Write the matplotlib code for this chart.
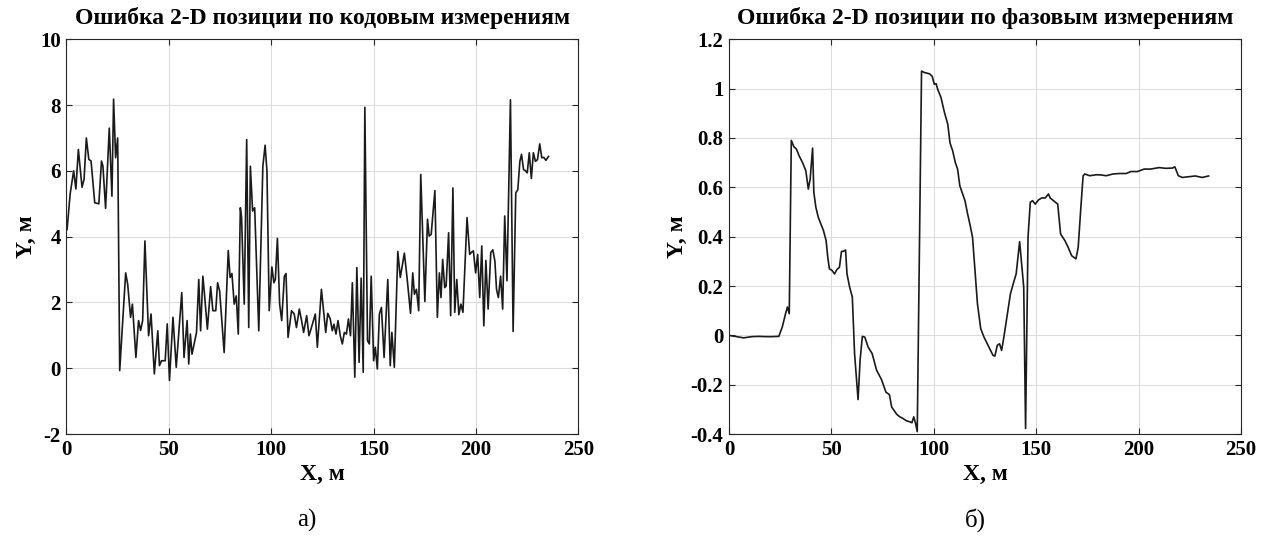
import matplotlib
matplotlib.use("Agg")
import matplotlib.pyplot as plt
from matplotlib.ticker import FuncFormatter

# ---- Data: code-based 2-D position error (left) ----
code_x = [0.3, 1.8, 3.5, 4.6, 5.8, 7.6, 8.6, 9.7, 10.9, 12.0, 13.8, 15.8, 17.1, 17.8, 19.1,
          20.9, 22.2, 23.0, 24.0, 25.0, 26.0, 28.9, 29.9, 31.3, 32.2, 33.9, 35.2, 36.2, 37.2,
          38.3, 40.1, 41.3, 42.9, 44.6, 45.4, 46.4, 48.2, 49.2, 50.3, 52.0, 53.6, 56.3, 57.4,
          58.9, 59.7, 60.5, 61.3, 63.5, 64.6, 65.5, 66.6, 67.4, 68.8, 70.4, 71.5, 72.9, 73.8,
          74.8, 77.0, 79.0, 79.9, 80.8, 81.9, 82.9, 83.9, 84.9, 85.5, 86.8, 88.0, 89.0, 89.8,
          90.9, 91.9, 93.9, 95.9, 97.0, 97.9, 99.0, 100.3, 101.3, 102.0, 103.0, 104.1, 105.1,
          106.4, 107.2, 108.2, 109.9, 111.2, 112.3, 113.7, 114.8, 115.8, 117.3, 118.4, 119.4,
          121.5, 122.5, 124.5, 126.6, 127.6, 128.8, 129.8, 130.6, 131.6, 132.6, 133.7, 134.7,
          135.7, 136.7, 137.7, 138.7, 139.6, 140.8, 141.8, 142.9, 143.9, 144.9, 145.7, 147.0,
          147.9, 148.8, 150.0, 150.8, 151.8, 152.8, 153.8, 155.1, 156.9, 158.1, 158.9, 160.1,
          161.8, 163.0, 165.0, 166.3, 168.0, 169.1, 169.9, 170.9, 172.0, 173.0, 175.0, 176.3,
          177.1, 178.1, 179.9, 181.1,
          182.1, 182.9, 183.7, 184.7, 185.4, 186.6, 187.6, 188.7, 189.6, 190.6, 191.6, 192.6,
          193.6, 195.6, 196.9, 197.7, 198.7, 199.8, 200.8, 201.8, 202.8, 203.8, 204.8, 205.9,
          207.2, 208.2, 209.2, 210.0, 210.9, 212.0, 213.0, 214.0, 215.1, 216.8, 218.1, 219.4,
          220.4, 221.4, 222.2, 223.2, 224.0, 225.0, 226.0, 227.0, 228.0, 229.0, 230.0, 231.1,
          232.1, 233.1, 234.1, 235.4]
code_y = [4.22, 5.30, 6.00, 5.45, 6.65, 5.50, 5.75, 7.00, 6.35, 6.30, 5.03, 5.00, 6.30, 6.15, 4.86,
          7.30, 5.23, 8.18, 6.40, 7.00, -0.07, 2.90, 2.55, 1.55, 1.95, 0.33, 1.45, 1.15, 1.45,
          3.87, 0.99, 1.65, -0.17, 1.14, 0.08, 0.23, 0.23, 1.35, -0.37, 1.55, 0.03, 2.30, 0.33,
          1.45, 0.13, 1.04, 0.43, 1.09, 2.70, 1.14, 2.80, 2.25, 1.19, 2.48, 1.75, 1.75, 2.60,
          2.35, 0.48, 3.58, 2.76, 2.88, 1.95, 2.20, 1.04, 4.88, 4.58, 1.95, 6.95, 1.24, 6.14,
          4.78, 4.88, 1.14, 6.14, 6.78, 5.99, 1.75, 3.08, 2.60, 2.70, 3.95, 1.95, 1.45,
          2.80, 2.88, 0.94, 1.75, 1.65, 1.24, 1.80, 1.45, 1.09, 1.60, 0.99, 1.19,
          1.65, 0.64, 2.40, 1.09, 1.67, 1.50, 1.14, 1.34, 1.04, 1.45, 0.99, 0.74,
          1.09, 1.04, 1.50, 0.99, 2.60, -0.27, 3.06, 0.18, 2.74, -0.12, 7.93, 0.84,
          0.74, 2.80, 0.23, 0.64, -0.02, 1.65, 1.85, 0.33, 2.70, 0.08, 1.09, 0.03,
          3.55, 2.76, 3.50, 2.76, 1.67, 2.90, 2.25, 2.40, 1.75, 5.89, 2.03, 4.53,
          4.02, 4.07, 5.40, 1.55,
          2.90, 2.15, 3.31, 2.45, 2.50, 4.12, 1.60, 5.48, 1.70, 2.70, 1.63, 1.95,
          1.70, 4.58, 3.46, 3.52, 3.57, 2.90, 3.46, 2.15, 3.72, 1.29, 3.28, 1.80,
          3.52, 3.60, 3.26, 2.40, 2.15, 2.80, 1.80, 4.63, 2.66, 8.16, 1.12, 5.33,
          5.43, 6.29, 6.50, 6.04, 6.01, 5.94, 6.55, 5.77, 6.55, 6.29, 6.34, 6.82,
          6.40, 6.41, 6.32, 6.44]

# ---- Data: phase-based 2-D position error (right) ----
phase_x = [0.0, 3.0, 7.1, 11.2, 14.5, 17.8, 21.0, 24.3, 26.0, 27.6, 28.5, 29.4, 30.4, 31.7,
           32.9, 34.2, 35.9, 37.5, 38.7, 39.6, 40.8, 41.4, 42.4, 43.6, 44.9, 46.1, 47.4,
           48.2, 49.0, 50.3, 51.5, 52.6, 53.9, 54.9, 55.9, 56.9, 57.6, 58.9, 60.2, 61.3,
           63.0, 64.0, 65.1, 66.3, 67.9, 69.9, 72.0, 74.5, 76.6, 78.3, 79.4, 81.9, 83.4,
           85.0, 86.6, 88.2, 89.3, 90.2, 91.1, 91.9, 94.0, 95.5, 97.9, 99.2, 100.2, 101.1,
           101.9, 103.5, 105.2, 106.8, 107.9, 109.2, 110.5, 111.6, 112.7, 114.0, 115.2,
           116.5, 117.6, 118.9, 120.0, 121.3, 122.9, 124.5, 126.1, 127.7, 128.9, 129.8,
           131.0, 132.1, 133.1, 134.2, 135.8, 137.4, 139.0, 140.2, 141.1, 141.9, 143.0,
           143.9, 144.8, 146.0, 147.1, 148.2, 149.5, 151.1, 152.7, 154.4, 156.0, 156.8,
           158.4, 160.5, 161.9, 164.0, 165.6, 167.3, 169.4, 170.5, 171.8, 172.9, 173.7,
           176.1, 179.4, 181.8, 184.2, 187.4, 190.6, 193.9, 196.3, 199.5, 202.7, 205.9,
           210.0, 213.2, 216.5, 217.7, 219.4, 221.3, 224.5, 227.7, 231.0, 234.2]
phase_y = [0.0, -0.004, -0.010, -0.005, -0.004, -0.005, -0.005, -0.004, 0.034, 0.088, 0.115,
           0.088, 0.790, 0.764, 0.755, 0.728, 0.700, 0.667, 0.593, 0.633, 0.759, 0.580, 0.519,
           0.478, 0.451, 0.425, 0.384, 0.317, 0.270, 0.263, 0.249, 0.266, 0.276, 0.340, 0.341,
           0.346, 0.249, 0.195, 0.155, -0.074, -0.260, -0.100, -0.004, -0.007, -0.047, -0.074,
           -0.140, -0.180, -0.230, -0.240, -0.290, -0.320, -0.330, -0.337, -0.346, -0.350,
           -0.354, -0.330, -0.357, -0.390, 1.071, 1.065, 1.060, 1.050, 1.018, 1.020, 0.997,
           0.964, 0.903, 0.856, 0.780, 0.748, 0.700, 0.674, 0.606, 0.575, 0.546, 0.492,
           0.451, 0.398, 0.276, 0.128, 0.027, -0.007, -0.034, -0.061, -0.081, -0.084, -0.040,
           -0.034, -0.061, -0.007, 0.081, 0.168, 0.216, 0.249, 0.317, 0.380, 0.276, 0.195,
           -0.377, 0.398, 0.539, 0.546, 0.532, 0.549, 0.557, 0.557, 0.573, 0.557, 0.546,
           0.532, 0.411, 0.384, 0.357, 0.323, 0.310, 0.357, 0.519, 0.647, 0.654, 0.647,
           0.651, 0.650, 0.647, 0.654, 0.656, 0.656, 0.664, 0.664, 0.674, 0.674, 0.680,
           0.677, 0.678, 0.683, 0.647, 0.640, 0.643, 0.646, 0.640, 0.646]

titles = ["Ошибка 2-D позиции по кодовым измерениям",
          "Ошибка 2-D позиции по фазовым измерениям"]
captions = ["а)", "б)"]
x_ticks = [0, 50, 100, 150, 200, 250]
y_ticks_left = [-2, 0, 2, 4, 6, 8, 10]
y_ticks_right = [-0.4, -0.2, 0, 0.2, 0.4, 0.6, 0.8, 1.0, 1.2]

serif = ["Liberation Serif", "DejaVu Serif"]
plt.rcParams["font.family"] = serif

fig = plt.figure(figsize=(12.71, 5.53), dpi=100)
ax1 = fig.add_axes([0.0523, 0.215, 0.4028, 0.714])
ax2 = fig.add_axes([0.5736, 0.215, 0.4028, 0.714])


def fmt(v, p):
    if abs(v) < 1e-9:
        return "0"
    return "%g" % round(v, 4)


def style(ax, yt, ylim, title):
    ax.set_xlim(0, 250)
    ax.set_ylim(*ylim)
    ax.set_xticks(x_ticks)
    ax.set_yticks(yt)
    ax.yaxis.set_major_formatter(FuncFormatter(fmt))
    ax.grid(True, color="#dcdcdc", lw=0.8)
    ax.set_axisbelow(True)
    ax.tick_params(direction="in", top=True, right=True, length=4, width=0.8,
                   color="#262626", labelsize=15, pad=4)
    for lab in ax.get_xticklabels() + ax.get_yticklabels():
        lab.set_fontweight("bold")
    for s in ax.spines.values():
        s.set_color("#262626")
        s.set_linewidth(0.8)
    ax.set_title(title, fontsize=17, fontweight="bold", pad=11)
    ax.set_xlabel("X, м", fontsize=17, fontweight="bold", labelpad=3)
    ax.set_ylabel("Y, м", fontsize=17, fontweight="bold", labelpad=2)


ax1.plot(code_x, code_y, color="#1a1a1a", lw=1.2)
style(ax1, y_ticks_left, (-2, 10), titles[0])
ax2.plot(phase_x, phase_y, color="#1a1a1a", lw=1.2)
style(ax2, y_ticks_right, (-0.4, 1.2), titles[1])

fig.text(307 / 1271, 1 - 520 / 553, captions[0], fontsize=18, ha="center", va="center")
fig.text(975 / 1271, 1 - 520 / 553, captions[1], fontsize=18, ha="center", va="center")

fig.savefig("out.png", dpi=100)
